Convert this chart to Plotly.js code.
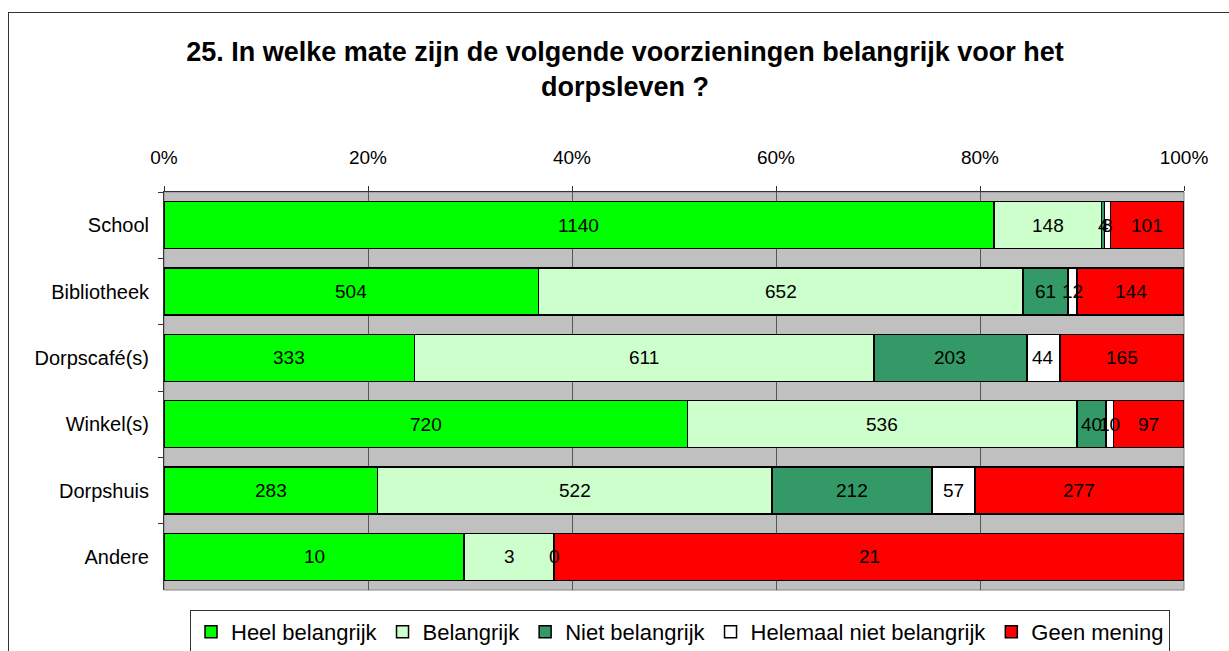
<!DOCTYPE html>
<html><head><meta charset="utf-8">
<script src="https://cdn.plot.ly/plotly-3.0.1.min.js"></script>
<style>
html,body{margin:0;padding:0;background:#fff;overflow:hidden;width:1229px;height:651px}
#frame{position:absolute;left:8px;top:12px;width:1300px;height:700px;border:1px solid #333;box-sizing:border-box}
#chart{position:absolute;left:0;top:0;width:1229px;height:651px}
</style>
</head><body>
<div id="frame"></div>
<div id="chart"></div>
<script>
const categories = ['School', 'Bibliotheek', 'Dorpscafé(s)', 'Winkel(s)', 'Dorpshuis', 'Andere'];
const seriesNames = ['Heel belangrijk', 'Belangrijk', 'Niet belangrijk', 'Helemaal niet belangrijk', 'Geen mening'];
const heelBelangrijk = [1140, 504, 333, 720, 283, 10];
const belangrijk = [148, 652, 611, 536, 522, 3];
const nietBelangrijk = [4, 61, 203, 40, 212, 0];
const helemaalNietBelangrijk = [8, 12, 44, 10, 57, null];
const geenMening = [101, 144, 165, 97, 277, 21];
const xTickValues = [0, 20, 40, 60, 80, 100];
const xTickLabels = ['0%', '20%', '40%', '60%', '80%', '100%'];
const titleLine1 = '25. In welke mate zijn de volgende voorzieningen belangrijk voor het';
const titleLine2 = 'dorpsleven ?';

const seriesValues = [heelBelangrijk, belangrijk, nietBelangrijk, helemaalNietBelangrijk, geenMening];
const seriesColors = ['#00ff00', '#ccffcc', '#339966', '#ffffff', '#ff0000'];
const FONT = 'Arial, "Liberation Sans", sans-serif';

const traces = seriesValues.map((vals, i) => ({
  type: 'bar',
  orientation: 'h',
  name: seriesNames[i],
  y: categories,
  x: vals,
  marker: {color: seriesColors[i], line: {color: '#000', width: 1.5}},
  hoverinfo: 'skip'
}));

// Data labels: centred on each segment, computed from the data (percent of row total)
const labelAnnotations = [];
categories.forEach((cat, c) => {
  const total = seriesValues.reduce((s, arr) => s + (arr[c] || 0), 0);
  let cum = 0;
  seriesValues.forEach(arr => {
    const v = arr[c];
    if (v === null || v === undefined) return;
    const mid = (cum + v / 2) / total * 100;
    cum += v;
    labelAnnotations.push({
      text: String(v), x: mid, y: cat, xref: 'x', yref: 'y',
      showarrow: false, xanchor: 'center', yanchor: 'middle',
      font: {family: FONT, size: 19, color: '#000'}
    });
  });
});

const layout = {
  width: 1229, height: 651,
  paper_bgcolor: 'rgba(0,0,0,0)',
  plot_bgcolor: '#c0c0c0',
  font: {family: FONT, color: '#000', size: 19},
  margin: {l: 164, r: 45, t: 192, b: 61, pad: 0},
  barmode: 'stack',
  barnorm: 'percent',
  bargap: 0.29,
  title: {
    text: '<b>' + titleLine1 + '</b>',
    font: {family: FONT, size: 27, color: '#000'},
    x: 625 / 1229, xanchor: 'center', xref: 'container',
    y: 1 - 52 / 651, yanchor: 'middle', yref: 'container'
  },
  annotations: [{
    text: '<b>' + titleLine2 + '</b>',
    font: {family: FONT, size: 27, color: '#000'},
    xref: 'paper', yref: 'paper',
    x: (625 - 164) / 1020, y: (590 - 87) / 398,
    xanchor: 'center', yanchor: 'middle', showarrow: false
  }].concat(labelAnnotations),
  xaxis: {
    side: 'top', range: [0, 100], tickmode: 'array', tickvals: xTickValues, ticktext: xTickLabels,
    ticks: 'outside', ticklen: 5, tickcolor: '#333', tickwidth: 1,
    ticklabelstandoff: 14,
    showgrid: true, gridcolor: '#555', gridwidth: 1,
    showline: true, linecolor: '#333', linewidth: 1,
    zeroline: false, fixedrange: true,
    tickfont: {family: FONT, size: 19, color: '#000'}
  },
  yaxis: {
    autorange: 'reversed', type: 'category',
    ticks: 'outside', ticklen: 5, tickcolor: '#333', tickson: 'boundaries',
    ticklabelstandoff: 10,
    showline: true, linecolor: '#333', linewidth: 1,
    showgrid: false, zeroline: false, fixedrange: true,
    tickfont: {family: FONT, size: 20, color: '#000'}
  },
  shapes: [{
    type: 'rect', xref: 'paper', yref: 'paper', x0: 0, x1: 1, y0: 0, y1: 1,
    line: {color: '#888', width: 1}, layer: 'below', fillcolor: 'rgba(0,0,0,0)'
  }],
  showlegend: true,
  legend: {
    orientation: 'h', xref: 'container', yref: 'container',
    x: 190 / 1229, xanchor: 'left', y: 1 - 610 / 651, yanchor: 'top',
    bgcolor: '#fff', bordercolor: '#333', borderwidth: 1,
    font: {family: FONT, size: 22, color: '#000'},
    traceorder: 'normal', itemwidth: 30
  }
};

Plotly.newPlot('chart', traces, layout, {displayModeBar: false, staticPlot: true});
</script>
</body></html>
